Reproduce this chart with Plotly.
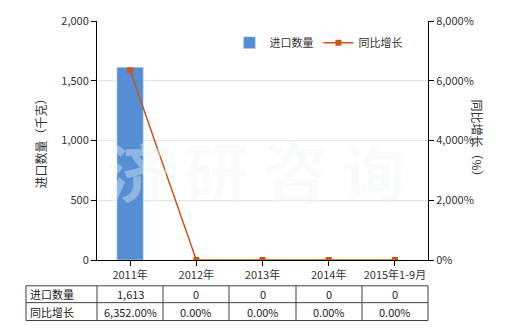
import plotly.graph_objects as go

categories = ["2011年", "2012年", "2013年", "2014年", "2015年1-9月"]
import_qty = [1613, 0, 0, 0, 0]
growth_pct = [6352, 0, 0, 0, 0]
qty_labels = ["1,613", "0", "0", "0", "0"]
growth_labels = ["6,352.00%", "0.00%", "0.00%", "0.00%", "0.00%"]
row_names = ["进口数量", "同比增长"]

FONT = "Noto Sans CJK SC"
BAR_C = "#558ED5"
LINE_C = "#C8561A"

fig = go.Figure()
fig.add_trace(go.Bar(x=categories, y=import_qty, name="进口数量", marker_color=BAR_C,
                     width=0.4, yaxis="y"))
fig.add_trace(go.Scatter(x=categories, y=growth_pct, name="同比增长", mode="lines+markers",
                         line=dict(color=LINE_C, width=1.5),
                         marker=dict(symbol="square", size=6, color=LINE_C), yaxis="y2"))

W, H = 520, 330
L, R, T, B = 97, 92, 19, 70
pw, ph = W - L - R, H - T - B

def px(x):
    return (x - L) / pw

def py(y):
    return (H - B - y) / ph

shapes = []
annotations = []
# table
xs = [26, 97, 163, 229, 296, 362, 428]
ys = [286, 303, 321]
for y in ys:
    shapes.append(dict(type="line", xref="paper", yref="paper", x0=px(xs[0]), x1=px(xs[-1]),
                       y0=py(y), y1=py(y), line=dict(color="#404040", width=1)))
for x in xs:
    shapes.append(dict(type="line", xref="paper", yref="paper", x0=px(x), x1=px(x),
                       y0=py(ys[0]), y1=py(ys[-1]), line=dict(color="#404040", width=1)))
rows = [qty_labels, growth_labels]
for r in range(2):
    yc = py((ys[r] + ys[r + 1]) / 2)
    annotations.append(dict(x=px(xs[0] + 2), y=yc, xref="paper", yref="paper", text=row_names[r],
                            showarrow=False, xanchor="left", yanchor="middle",
                            font=dict(family=FONT, size=11, color="#222")))
    for c in range(5):
        annotations.append(dict(x=px((xs[c + 1] + xs[c + 2]) / 2), y=yc, xref="paper", yref="paper",
                                text=rows[r][c], showarrow=False, xanchor="center", yanchor="middle",
                                font=dict(family=FONT, size=11, color="#222")))
# axis titles
annotations.append(dict(x=px(30), y=py(140), xref="paper", yref="paper", text="进口数量（千克）",
                        textangle=-90, showarrow=False, font=dict(family=FONT, size=12, color="#333")))
annotations.append(dict(x=px(488), y=py(140), xref="paper", yref="paper", text="同比增长（%）",
                        textangle=90, showarrow=False, font=dict(family=FONT, size=12, color="#333")))
# watermark
annotations.append(dict(x=px(256), y=py(168), xref="paper", yref="paper", text="<b>济 研 咨 询</b>",
                        showarrow=False, xanchor="center", yanchor="middle",
                        font=dict(family=FONT, size=64, color="rgba(240,245,245,0.38)")))

fig.update_layout(
    width=W, height=H, margin=dict(l=L, r=R, t=T, b=B),
    paper_bgcolor="white", plot_bgcolor="white",
    font=dict(family=FONT, size=11, color="#333"),
    showlegend=True,
    legend=dict(orientation="h", x=0.40, y=0.97, xanchor="left", yanchor="top",
                bgcolor="rgba(0,0,0,0)", font=dict(family=FONT, size=11, color="#333"),
                itemwidth=30),
    xaxis=dict(showline=True, linecolor="black", linewidth=1, ticks="outside", ticklen=5,
               tickcolor="black", showgrid=False, tickfont=dict(size=11)),
    yaxis=dict(range=[0, 2000], tickvals=[0, 500, 1000, 1500, 2000],
               ticktext=["0", "500", "1,000", "1,500", "2,000"],
               showline=True, linecolor="black", linewidth=1, ticks="outside", ticklen=5,
               tickcolor="black", gridcolor="#E4E4E4", zeroline=False, tickfont=dict(size=11)),
    yaxis2=dict(range=[0, 8000], overlaying="y", side="right",
                tickvals=[0, 2000, 4000, 6000, 8000],
                ticktext=["0%", "2,000%", "4,000%", "6,000%", "8,000%"],
                showline=True, linecolor="black", linewidth=1, ticks="outside", ticklen=5,
                tickcolor="black", showgrid=False, zeroline=False, tickfont=dict(size=11)),
    shapes=shapes, annotations=annotations,
)

fig.write_html("out.html")
